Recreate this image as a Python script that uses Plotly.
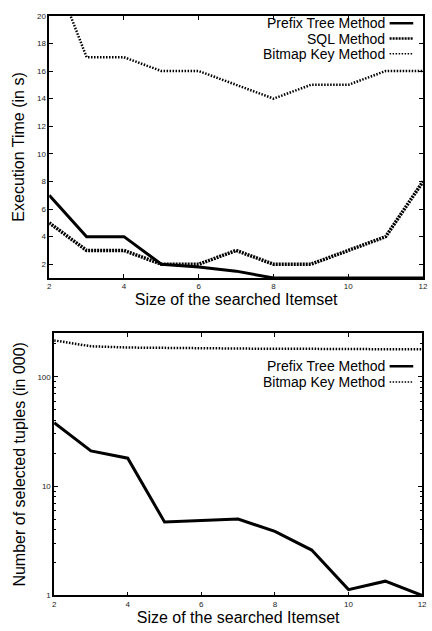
import plotly.graph_objects as go

# ---------------- data ----------------
sizes = [2, 3, 4, 5, 6, 7, 8, 9, 10, 11, 12]

# top chart: execution time (s)
time_prefix = [7, 4, 4, 2, 1.8, 1.5, 1, 1, 1, 1, 1]
time_sql = [5, 3, 3, 2, 2, 3, 2, 2, 3, 4, 8]
time_bitmap = [24, 17, 17, 16, 16, 15, 14, 15, 15, 16, 16]

# bottom chart: number of selected tuples (in 000)
tuples_prefix = [38, 21, 18, 4.7, 4.85, 5.0, 3.85, 2.6, 1.13, 1.35, 1.0]
tuples_bitmap = [215, 190, 185, 183, 182, 181, 180, 180, 179, 179, 178]

top_yticks = [2, 4, 6, 8, 10, 12, 14, 16, 18, 20]
x_ticks = [2, 4, 6, 8, 10, 12]
log_major = [1, 10, 100]
log_minor = [2, 3, 4, 5, 6, 7, 8, 9, 20, 30, 40, 50, 60, 70, 80, 90, 200]

names = ["Prefix Tree Method", "SQL Method", "Bitmap Key Method"]

# ---------------- styles ----------------
W, H = 432, 631
FONT = "Liberation Sans, Arial, sans-serif"
style = {
    "Prefix Tree Method": dict(color="black", width=3, dash="solid"),
    "SQL Method": dict(color="black", width=3.5, dash="2px,1px"),
    "Bitmap Key Method": dict(color="black", width=2.5, dash="1.5px,1.5px"),
}
legend_style = {
    "Prefix Tree Method": dict(color="black", width=2.5, dash="solid"),
    "SQL Method": dict(color="black", width=2.5, dash="2px,1px"),
    "Bitmap Key Method": dict(color="black", width=1.5, dash="1.5px,1.5px"),
}

fig = go.Figure()

# top chart traces
for nm, vals in zip(names, [time_prefix, time_sql, time_bitmap]):
    fig.add_trace(go.Scatter(x=sizes, y=vals, mode="lines", name=nm,
                             line=style[nm], xaxis="x", yaxis="y",
                             showlegend=False, cliponaxis=True))

# bottom chart traces
for nm, vals in zip([names[0], names[2]], [tuples_prefix, tuples_bitmap]):
    fig.add_trace(go.Scatter(x=sizes, y=vals, mode="lines", name=nm,
                             line=style[nm], xaxis="x2", yaxis="y2",
                             showlegend=False))


def px_x(p):
    return p / W


def px_y(p):
    return 1 - p / H


axis_common = dict(
    showline=True, linecolor="black", linewidth=1.5, mirror="ticks",
    ticks="inside", ticklen=4, tickwidth=1, tickcolor="black",
    showgrid=False, zeroline=False,
    tickfont=dict(family=FONT, size=8, color="#222"),
    title_font=dict(family=FONT, size=16, color="black"),
)

fig.update_layout(
    width=W, height=H,
    margin=dict(l=0, r=0, t=0, b=0),
    paper_bgcolor="white", plot_bgcolor="white",
    font=dict(family=FONT, color="black"),
    xaxis=dict(domain=[px_x(48), px_x(428)], range=[2, 12], anchor="y",
               tickvals=x_ticks,
               title=dict(text="Size of the searched Itemset", standoff=1),
               **axis_common),
    yaxis=dict(domain=[px_y(278), px_y(12)], range=[1, 20], anchor="x",
               tickvals=top_yticks,
               title=dict(text="Execution Time (in s)", standoff=8),
               **axis_common),
    xaxis2=dict(domain=[px_x(53), px_x(427)], range=[2, 12], anchor="y2",
                tickvals=x_ticks,
                title=dict(text="Size of the searched Itemset", standoff=1),
                **axis_common),
    yaxis2=dict(domain=[px_y(600), px_y(334)], type="log",
                range=[0, 2.398], anchor="x2",
                tickvals=log_major,
                minor=dict(tickvals=log_minor, ticks="inside", ticklen=2,
                           tickcolor="black", showgrid=False),
                title=dict(text="Number of selected tuples (in 000)", standoff=8),
                **axis_common),
)

# custom gnuplot-style legends (text right-aligned, sample line on the right)
def add_legend(entries, ys):
    for nm, yy in zip(entries, ys):
        fig.add_annotation(x=px_x(391), y=px_y(yy), xref="paper", yref="paper",
                           text=nm, showarrow=False, xanchor="right",
                           yanchor="middle",
                           font=dict(family=FONT, size=14, color="black"))
        fig.add_shape(type="line", xref="paper", yref="paper",
                      x0=px_x(394), x1=px_x(418), y0=px_y(yy), y1=px_y(yy),
                      line=legend_style[nm])


add_legend(names, [19.5, 35, 50.5])
add_legend([names[0], names[2]], [367.5, 383.5])

fig.write_html("out.html")
